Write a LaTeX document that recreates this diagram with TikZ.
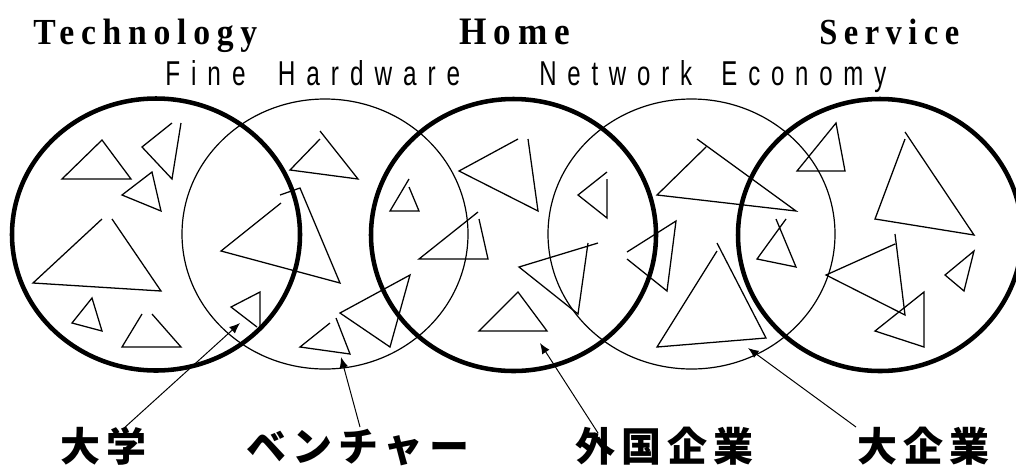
\documentclass[tikz,border=0pt]{standalone}
\usepackage{fontspec}
\usepackage{graphicx}
\usetikzlibrary{arrows.meta}
\newfontfamily\ttlfont[LetterSpace=20]{Liberation Serif}
\newfontfamily\subfont[LetterSpace=45]{Liberation Sans}
\newfontfamily\jpfont[LetterSpace=15]{Noto Sans CJK JP}
\tikzset{
  thickc/.style={line width=3.4pt},
  thinc/.style={line width=0.9pt},
  tri/.style={line width=0.95pt, line join=miter},
  arr/.style={line width=0.75pt, -{Latex[length=8pt,width=6.5pt]}},
  ttl/.style={inner sep=0pt, anchor=base west},
  jp/.style={inner sep=0pt, anchor=base west, font=\jpfont\bfseries\fontsize{30pt}{30pt}\selectfont}
}
\begin{document}
\begin{tikzpicture}[x=0.75pt,y=-0.75pt]
\useasboundingbox (0,0) rectangle (1016,465);
% circles
\draw[thinc] (325,234) ellipse [x radius=143, y radius=135];
\draw[thinc] (691.5,234) ellipse [x radius=143.5, y radius=135];
\draw[thickc] (156,234.5) ellipse [x radius=144, y radius=136];
\draw[thickc] (513.5,235) ellipse [x radius=142.5, y radius=136];
\draw[thickc] (880,235) ellipse [x radius=142, y radius=136];
% triangles: Technology
\draw[tri] (62,179) -- (102,140) -- (131,179) -- cycle;
\draw[tri] (172,123) -- (142,147) -- (172,179) -- (181,123);
\draw[tri] (152,172) -- (122,195) -- (161,211) -- cycle;
\draw[tri] (102,219) -- (33,283) -- (161,291) -- (112,219);
\draw[tri] (92,298) -- (72,323) -- (102,331) -- cycle;
\draw[tri] (142,314) -- (122,347) -- (181,347) -- (152,314);
% Fine Hardware
\draw[tri] (320,139) -- (290,170) -- (358,179) -- (320,131);
\draw[tri] (281,203) -- (221,251) -- (340,283) -- (300,188) -- (280,195);
\draw[tri] (260,327) -- (260,292) -- (231,307) -- (257,327);
\draw[tri] (330,323) -- (300,347) -- (350,354) -- (336,318);
\draw[tri] (340,313) -- (410,275) -- (390,347) -- cycle;
% Home
\draw[tri] (518,139) -- (459,171) -- (538,211) -- (528,139);
\draw[tri] (409,179) -- (390,211) -- (419,211) -- (409,187);
\draw[tri] (478,212) -- (419,259) -- (488,259) -- (479,219);
\draw[tri] (598,243) -- (519,267) -- (578,314) -- (588,243);
\draw[tri] (479,331) -- (518,292) -- (547,331) -- cycle;
% Network Economy
\draw[tri] (607,172) -- (578,195) -- (607,218) -- (607,179);
\draw[tri] (627,252) -- (676,221) -- (667,291) -- (627,259);
\draw[tri] (706,147) -- (657,195) -- (796,211) -- (697,139);
\draw[tri] (786,219) -- (757,259) -- (796,267) -- (776,219);
\draw[tri] (717,251) -- (657,347) -- (766,338) -- (717,243);
% Service
\draw[tri] (797,171) -- (836,123) -- (845,171) -- cycle;
\draw[tri] (905,139) -- (875,219) -- (974,235) -- (905,132);
\draw[tri] (895,244) -- (826,275) -- (905,315) -- (895,234);
\draw[tri] (945,275) -- (974,251) -- (964,291) -- cycle;
\draw[tri] (875,331) -- (924,292) -- (924,347) -- cycle;
% titles
\node[ttl] (tech) at (33,44) {\resizebox{168pt}{19.1pt}{\ttlfont\bfseries Technology}};
\node[ttl] (home) at (459,44) {\resizebox{83.25pt}{19.1pt}{\ttlfont\bfseries Home}};
\node[ttl] (serv) at (819,44) {\resizebox{105pt}{19.1pt}{\ttlfont\bfseries Service}};
\node[ttl] (fine) at (165,85) {\resizebox{221.25pt}{18.75pt}{\subfont Fine\hspace{6pt} Hardware}};
\node[ttl] (net) at (539,85) {\resizebox{260.25pt}{18.75pt}{\subfont Network\hspace{5pt} Economy}};
% bottom labels
\node[jp] (daigaku) at (60,461) {大学};
\node[jp] (venture) at (246,461) {ベンチャー};
\node[jp] (gaikoku) at (575,461) {外国企業};
\node[jp] (daikigyo) at (857,461) {大企業};
% arrow ends
\coordinate (daigakuT) at (123,429);
\coordinate (daigakuH) at (240,323);
\coordinate (ventureT) at (360,427);
\coordinate (ventureH) at (341,357);
\coordinate (gaikokuT) at (598,433);
\coordinate (gaikokuH) at (540,343);
\coordinate (daikigyoT) at (856,427);
\coordinate (daikigyoH) at (748,348);
\draw[arr] (daigakuT) -- (daigakuH);
\draw[arr] (ventureT) -- (ventureH);
\draw[arr] (gaikokuT) -- (gaikokuH);
\draw[arr] (daikigyoT) -- (daikigyoH);
\end{tikzpicture}
\end{document}
